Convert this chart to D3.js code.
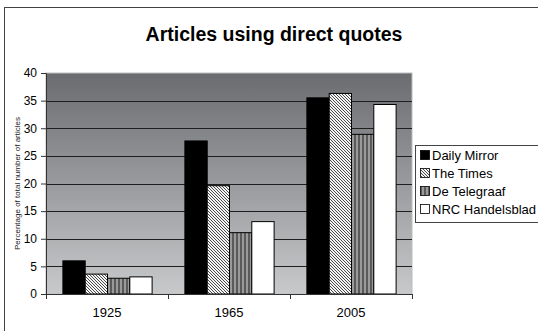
<!DOCTYPE html>
<html>
<head>
<meta charset="utf-8">
<script src="https://cdn.jsdelivr.net/npm/d3@7"></script>
<style>
  body { margin: 0; background: #fff; }
  svg { display: block; font-family: "Liberation Sans", Arial, sans-serif; }
</style>
</head>
<body>
<div id="chart"></div>
<script>
// datos
const years = ["1925", "1965", "2005"]
const papers = ["Daily Mirror", "The Times", "De Telegraaf", "NRC Handelsblad"]
const dailyMirror = [6.0, 27.7, 35.5]
const theTimes = [3.6, 19.6, 36.3]
const deTelegraaf = [2.85, 11.1, 28.9]
const nrcHandelsblad = [3.1, 13.1, 34.3]
const yTicks = [0, 5, 10, 15, 20, 25, 30, 35, 40]

const seriesValues = [dailyMirror, theTimes, deTelegraaf, nrcHandelsblad]
const fills = ["#000", "url(#hatch)", "url(#stripes)", "#fff"]

const width = 538, height = 331
const margin = { top: 73, right: 126, bottom: 37, left: 46 }
const font = "'Liberation Sans', Arial, sans-serif"

const svg = d3.select("#chart").append("svg")
  .attr("width", width)
  .attr("height", height)

const defs = svg.append("defs")

// Fondo degradado
const grad = defs.append("linearGradient")
  .attr("id", "bg").attr("x1", 0).attr("y1", 0).attr("x2", 0).attr("y2", 1)
grad.append("stop").attr("offset", "0%").attr("stop-color", "#6b6c70")
grad.append("stop").attr("offset", "100%").attr("stop-color", "#c8c9cb")

// Tramas
const hatch = defs.append("pattern")
  .attr("id", "hatch").attr("patternUnits", "userSpaceOnUse")
  .attr("width", 3).attr("height", 3)
hatch.append("rect").attr("width", 3).attr("height", 3).attr("fill", "#f4f4f4")
;[0, 1, 2].forEach(i => {
  hatch.append("rect").attr("x", i).attr("y", i).attr("width", 1).attr("height", 1).attr("fill", "#4a4a4a")
})

const stripes = defs.append("pattern")
  .attr("id", "stripes").attr("patternUnits", "userSpaceOnUse")
  .attr("width", 4).attr("height", 4)
stripes.append("rect").attr("width", 4).attr("height", 4).attr("fill", "#9a9a9a")
stripes.append("rect").attr("width", 2).attr("height", 4).attr("fill", "#5a5a5a")

// Marco exterior
svg.append("rect")
  .attr("x", 4.5).attr("y", 7.5)
  .attr("width", width + 10).attr("height", height + 10)
  .attr("fill", "none").attr("stroke", "#444").attr("stroke-width", 1)

const x0 = d3.scaleBand()
  .domain(years)
  .range([margin.left, width - margin.right])

const x1 = d3.scaleBand()
  .domain(papers)
  .range([0, x0.bandwidth()])
  .paddingInner(0)
  .paddingOuter(0.735)

const y = d3.scaleLinear()
  .domain([0, 40])
  .range([height - margin.bottom, margin.top])

// Área de trazado
svg.append("rect")
  .attr("x", margin.left).attr("y", margin.top)
  .attr("width", width - margin.right - margin.left)
  .attr("height", y(0) - margin.top)
  .attr("fill", "url(#bg)")
  .attr("stroke", "#bdbdbd").attr("stroke-width", 1)

// Líneas de cuadrícula
svg.append("g")
  .selectAll("line")
  .data(yTicks.filter(d => d > 0 && d < 40))
  .join("line")
  .attr("x1", margin.left).attr("x2", width - margin.right)
  .attr("y1", d => Math.round(y(d)) + 0.5)
  .attr("y2", d => Math.round(y(d)) + 0.5)
  .attr("stroke", "#1e1e1e").attr("stroke-width", 1)

// Barras
const groups = svg.append("g")
  .selectAll("g")
  .data(years)
  .join("g")
  .attr("transform", d => `translate(${x0(d)},0)`)

groups.selectAll("rect")
  .data((d, i) => papers.map((p, j) => ({ paper: p, value: seriesValues[j][i], j })))
  .join("rect")
  .attr("x", d => x1(d.paper) + 0.5)
  .attr("y", d => y(d.value))
  .attr("width", x1.bandwidth())
  .attr("height", d => y(0) - y(d.value))
  .attr("fill", d => fills[d.j])
  .attr("stroke", "#000")
  .attr("stroke-width", 1)

// Ejes
const yAxis = svg.append("g")
  .attr("transform", `translate(${margin.left},0)`)
  .call(d3.axisLeft(y).tickValues(yTicks).tickSize(5).tickPadding(4))
yAxis.select(".domain").attr("stroke", "#333")
yAxis.selectAll(".tick line").attr("stroke", "#333")
yAxis.selectAll("text").attr("font-size", 12).attr("fill", "#000")
  .attr("font-family", font)

const xAxis = svg.append("g")
  .attr("transform", `translate(0,${y(0)})`)
  .call(d3.axisBottom(x0).tickSize(0).tickPadding(14))
xAxis.select(".domain").attr("stroke", "#333")
xAxis.selectAll("text").attr("font-size", 13).attr("fill", "#000")
  .attr("font-family", font)

// Marcas de separación entre categorías
svg.append("g")
  .selectAll("line")
  .data(years.map(d => x0(d)).concat([x0(years[years.length - 1]) + x0.bandwidth()]))
  .join("line")
  .attr("x1", d => Math.round(d) + 0.5).attr("x2", d => Math.round(d) + 0.5)
  .attr("y1", y(0)).attr("y2", y(0) + 5)
  .attr("stroke", "#333")

// Título
svg.append("text")
  .attr("x", 274).attr("y", 41)
  .attr("text-anchor", "middle")
  .attr("font-family", font)
  .attr("font-size", 19.5).attr("font-weight", "bold")
  .text("Articles using direct quotes")

// Etiqueta del eje Y
svg.append("text")
  .attr("transform", `translate(20,${(margin.top + y(0)) / 2}) rotate(-90)`)
  .attr("text-anchor", "middle")
  .attr("font-family", font)
  .attr("font-size", 8)
  .attr("fill", "#222")
  .text("Percentage of total number of articles")

// Leyenda
const legend = svg.append("g")
legend.append("rect")
  .attr("x", 415.5).attr("y", 145.5)
  .attr("width", 140).attr("height", 77)
  .attr("fill", "#fff").attr("stroke", "#444")

const items = legend.selectAll("g")
  .data(papers)
  .join("g")
  .attr("transform", (d, i) => `translate(420,${148 + i * 18})`)

items.append("rect")
  .attr("x", 0.5).attr("y", 2.5)
  .attr("width", 9).attr("height", 9)
  .attr("fill", (d, i) => fills[i])
  .attr("stroke", "#000").attr("stroke-width", 0.8)

items.append("text")
  .attr("x", 12).attr("y", 12)
  .attr("font-family", font)
  .attr("font-size", 13)
  .text(d => d)
</script>
</body>
</html>
